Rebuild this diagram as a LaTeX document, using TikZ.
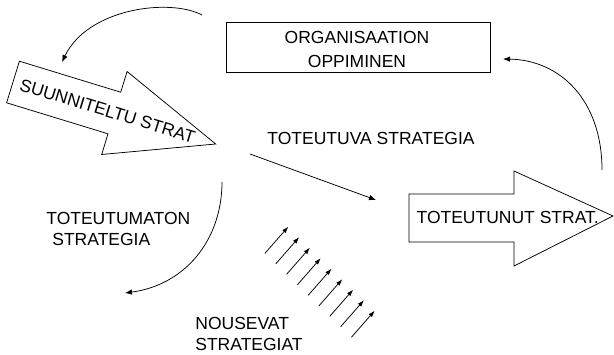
\documentclass[tikz,border=0pt]{standalone}
\usepackage{fontspec}
\setmainfont{Liberation Sans}
\usetikzlibrary{arrows.meta}
\begin{document}
\begin{tikzpicture}[x=1pt,y=-1pt,
  line width=0.75pt,
  lbl/.style={inner sep=0pt, font=\fontsize{17.5}{21.5}\selectfont},
  flow/.style={-{Latex[length=7pt,width=5.5pt]}},
  rise/.style={-{Latex[length=6.5pt,width=4.5pt]}},
  bigarrow/.style={draw, line join=miter, fill=white},
  framebox/.style={draw, inner sep=0pt, minimum width=264pt, minimum height=50pt}]
\useasboundingbox (0,0) rectangle (614,355);

% planned strategy: block arrow tilted down to the right
\draw[bigarrow] (19.4,61.2) -- (120.7,92.2) -- (127.1,71.5) -- (215.7,144)
  -- (101.7,154.5) -- (108,133.8) -- (6.6,102.8) -- cycle;
\node[lbl, rotate=-17] (planned) at (107.5,111) {SUUNNITELTU STRAT};

% realised strategy: horizontal block arrow
\draw[bigarrow] (409,194) -- (514,194) -- (514,171) -- (613,216)
  -- (514,266) -- (514,242) -- (409,242) -- cycle;
\node[lbl] (realised) at (507.7,217) {TOTEUTUNUT STRAT.};

% organisational learning box
\node[framebox] (learnbox) at (358,47) {};
\node[lbl, align=center] (learn) at (357,49.7) {ORGANISAATION\\[3pt]OPPIMINEN};

% labels
\node[lbl] (deliberate) at (371,138.5) {TOTEUTUVA STRATEGIA};
\node[lbl, align=left, anchor=north west] (unrealised) at (46,211.5)
  {TOTEUTUMATON\\\hspace*{6pt}STRATEGIA};
\node[lbl, align=left, anchor=north west] (emergent) at (195,316.5)
  {NOUSEVAT\\STRATEGIAT};

% connector end points
\coordinate (topA) at (202,15);
\coordinate (topB) at (62,62);
\coordinate (rightA) at (602,170);
\coordinate (rightB) at (503,59);
\coordinate (lowA) at (222,182);
\coordinate (lowB) at (125,293);
\coordinate (midA) at (250,154);
\coordinate (midB) at (376,200);

% feedback loops and the realised path
\draw[flow] (topA) .. controls (170,-2) and (88,8) .. (topB);
\draw[flow] (rightA) .. controls (602,100) and (560,60) .. (rightB);
\draw[flow] (lowA) .. controls (222,240) and (185,285) .. (lowB);
\draw[flow] (midA) -- (midB);

% emergent strategies: a row of small rising arrows
\foreach \i in {0,...,8}{
  \coordinate (e\i a) at ({265+10.8*\i},{253.3+10.5*\i});
  \coordinate (e\i b) at ({288.3+10.8*\i},{226.7+10.5*\i});
  \draw[rise] (e\i a) -- (e\i b);
}
\end{tikzpicture}
\end{document}
